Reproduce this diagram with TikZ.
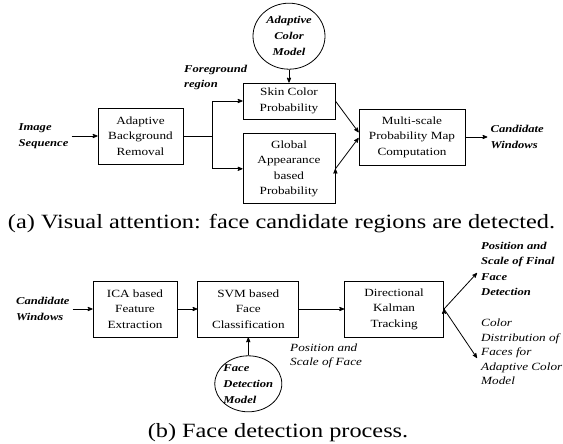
\documentclass[tikz,border=0pt]{standalone}
\usepackage{fontspec}
\setmainfont{Liberation Serif}[FakeStretch=1.2]
\usepackage{tikz}
\usetikzlibrary{shapes,arrows,positioning}
\tikzset{>=stealth'}
\tikzset{block node/.style={rectangle,draw,line width=0.8pt,align=center,inner sep=1pt,font=\fontsize{11}{15.5}\selectfont},
         model node/.style={ellipse,draw,line width=0.8pt,align=center,inner sep=-4pt,font=\fontsize{10.5}{16}\selectfont\bfseries\itshape},
         label node/.style={align=left,inner sep=3pt,font=\fontsize{10.5}{15.5}\selectfont\bfseries\itshape},
         caption node/.style={font=\fontsize{20.25}{24}\selectfont},
            }

\begin{document}
\begin{tikzpicture}[x=1pt,y=-1pt]
    \useasboundingbox (0,0) rectangle (563,444);

    % (a) visual attention
    \node[block node,minimum width=85pt,minimum height=56pt] (1) at (140.5,136) {Adaptive\\Background\\Removal};
    \node[block node,minimum width=92pt,minimum height=36pt] (2) at (289,101) {Skin Color\\Probability};
    \node[block node,minimum width=92pt,minimum height=70pt] (3) [below=14pt of 2] {Global\\Appearance\\based\\Probability};
    \node[block node,minimum width=106pt,minimum height=56pt] (4) at (412,137) {Multi-scale\\Probability Map\\Computation};
    \node[model node,minimum width=72pt,minimum height=66pt] (5) [above=13pt of 2] {Adaptive\\Color\\Model};
    \node[label node] (in1) [left=26pt of 1] {Image\\Sequence};
    \node[label node] (out1) [right=22pt of 4] {Candidate\\Windows};
    \node[label node,anchor=north west] (fg) at (181,62) {Foreground\\region};
    \coordinate (j) at (212,136);

    \path[draw,line width=0.8pt,->]
    (in1) edge (1)
    (1) edge[-] (j)
    (j) edge[to path={|- (\tikztotarget)}] (2)
    (j) edge[to path={|- (\tikztotarget)}] (3)
    (5) edge (2)
    (2.east) edge (4.175)
    (3.east) edge (4.181)
    (4) edge (out1);

    % (b) face detection
    \node[block node,minimum width=84pt,minimum height=56pt] (6) at (135,309) {ICA based\\Feature\\Extraction};
    \node[block node,minimum width=101pt,minimum height=56pt] (7) [right=20pt of 6] {SVM based\\Face\\Classification};
    \node[block node,minimum width=99pt,minimum height=56pt] (8) [right=45pt of 7] {Directional\\Kalman\\Tracking};
    \node[model node,align=left,minimum width=67pt,minimum height=56pt] (9) [below=18pt of 7] {Face\\Detection\\Model};
    \node[label node] (in2) [left=20pt of 6] {Candidate\\Windows};
    \node[label node,anchor=north west,font=\fontsize{11}{13.5}\selectfont\itshape] (pos) at (287,341) {Position and\\Scale of Face};
    \node[label node,anchor=north west] (final) at (478,239) {Position and\\Scale of Final\\Face\\Detection};
    \node[label node,anchor=north west,font=\fontsize{11}{14.5}\selectfont\itshape] (dist) at (478,316) {Color\\Distribution of\\Faces for\\Adaptive Color\\Model};
    \coordinate (t1) at (477,273);
    \coordinate (t2) at (477,358);

    \path[draw,line width=0.8pt,->]
    (in2) edge (6)
    (6) edge (7)
    (7) edge (8)
    (9) edge (7)
    (8.east) edge (t1)
    (8.east) edge (t2);

    \node[caption node,anchor=base] (capa) at (281.5,228) {(a) Visual attention: face candidate regions are detected.};
    \node[caption node,anchor=base] (capb) at (278,437) {(b) Face detection process.};

\end{tikzpicture}
\end{document}
